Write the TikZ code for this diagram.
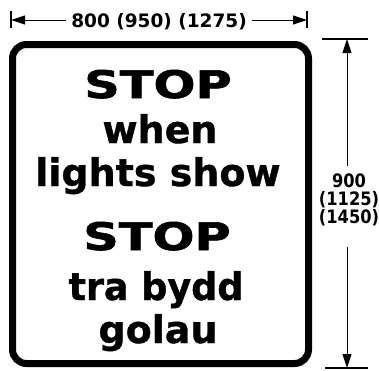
\documentclass[tikz,border=0pt]{standalone}
\usepackage{fontspec}
\setmainfont{DejaVu Sans}
\usepackage{graphicx}
\usetikzlibrary{arrows.meta}

\tikzset{
  signline/.style={anchor=base, inner sep=0pt, font=\bfseries\fontsize{38}{38}\selectfont\addfontfeature{FakeBold=1}},
  dimlabel/.style={font=\bfseries\fontsize{18.5}{18}\selectfont, align=center, inner xsep=5pt, inner ysep=8pt},
  dimarrow/.style={line width=1pt, -{Triangle[length=14pt,width=9pt]}},
  dimtick/.style={line width=1.2pt},
}
\newcommand{\widestop}{\scalebox{1.3}[1]{\addfontfeature{FakeBold=1.5}STOP}}

\begin{document}
\begin{tikzpicture}[x=1pt,y=-1pt]
\useasboundingbox[fill=white] (0,0) rectangle (379,370);

% the sign
\draw[line width=7pt, rounded corners=14pt] (12.5,44.5) rectangle (308.5,363.5);
\node[signline] (stopen) at (158,98) {\widestop};
\node[signline] (when) at (160,143) {when};
\node[signline] (lights) at (158,186) {lights show};
\node[signline] (stopcy) at (157,250) {\widestop};
\node[signline] (tra) at (156,300) {\scalebox{0.96}[1]{tra bydd}};
\node[signline] (golau) at (158,343) {golau};

% width
\coordinate (wl) at (11,20);
\coordinate (wr) at (307,20);
\node[dimlabel] (dimw) at (159,21.5) {800 (950) (1275)};
\draw[dimarrow] (dimw.west |- wl) -- (wl);
\draw[dimarrow] (dimw.east |- wr) -- (wr);
\draw[dimtick] ([yshift=9pt]wl) -- ([yshift=-8pt]wl);
\draw[dimtick] ([yshift=9pt]wr) -- ([yshift=-8pt]wr);

% height
\coordinate (vt) at (347,39);
\coordinate (vb) at (347,368);
\node[dimlabel] (dimh) at (349,200) {\scalebox{0.88}[1]{900}\\\scalebox{0.88}[1]{(1125)}\\\scalebox{0.88}[1]{(1450)}};
\coordinate (dimhb) at ([yshift=-13pt]dimh.south);
\draw[dimarrow] (dimh.north -| vt) -- (vt);
\draw[dimarrow] (dimhb -| vb) -- (vb);
\draw[dimtick] ([xshift=-25pt]vt) -- ([xshift=21pt]vt);
\draw[dimtick] ([xshift=-22pt]vb) -- ([xshift=21pt]vb);
\end{tikzpicture}
\end{document}
